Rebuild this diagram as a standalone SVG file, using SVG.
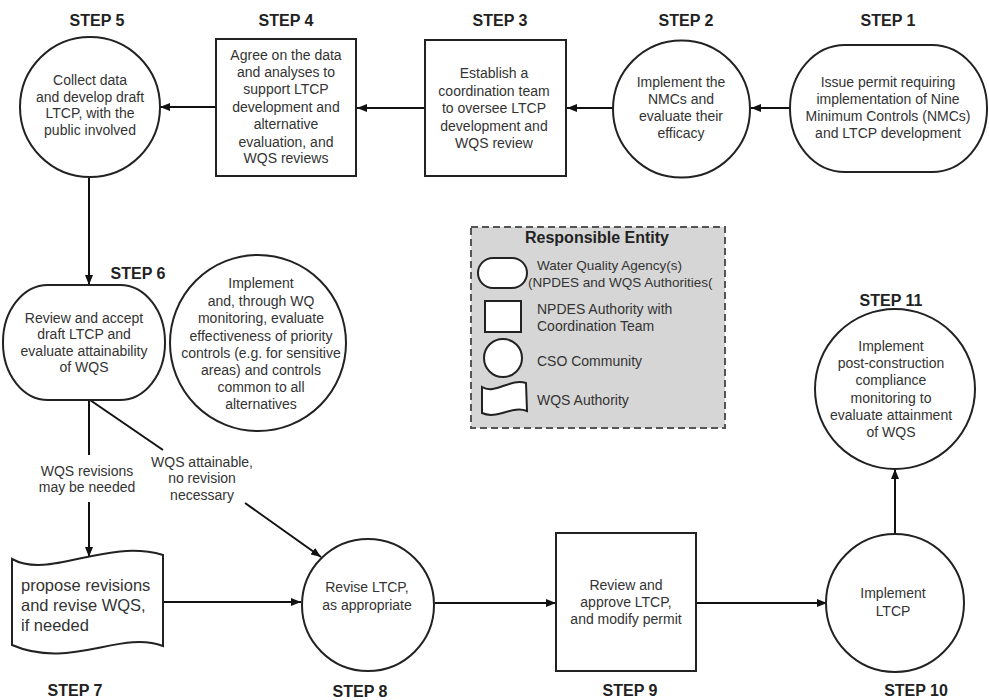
<svg xmlns="http://www.w3.org/2000/svg" width="989" height="700" viewBox="0 0 989 700">
<defs>
<marker id="arr" markerUnits="userSpaceOnUse" markerWidth="10" markerHeight="8" refX="10" refY="4" orient="auto">
<path d="M0,0 L10,4 L0,8 z" fill="#111"/>
</marker>
<style>
.sh{fill:#fff;stroke:#222;stroke-width:2}
.t{font-family:"Liberation Sans",Arial,sans-serif;font-size:14px;fill:#333;text-anchor:middle}
.tl{font-family:"Liberation Sans",Arial,sans-serif;font-size:14px;fill:#333}
.st{font-family:"Liberation Sans",Arial,sans-serif;font-size:16px;font-weight:bold;fill:#222;text-anchor:middle}
.c{fill:none;stroke:#111;stroke-width:2}
.ca{fill:none;stroke:#111;stroke-width:2;marker-end:url(#arr)}
</style>
</defs>
<rect width="989" height="700" fill="#fff"/>

<g id="legend">
<rect x="471" y="227" width="254" height="201" fill="#d6d6d6" stroke="#555" stroke-width="2" stroke-dasharray="7,4"/>
<text class="st" x="597" y="243">Responsible Entity</text>
<rect class="sh" x="478" y="258" width="49" height="30" rx="15" ry="15"/>
<text class="tl" x="537" y="270" style="font-size:13.5px">Water Quality Agency(s)</text>
<text class="tl" x="528" y="287" style="font-size:13.5px">(NPDES and WQS Authorities(</text>
<rect class="sh" x="485" y="301" width="36" height="31"/>
<text class="tl" x="537" y="314">NPDES Authority with</text>
<text class="tl" x="537" y="331">Coordination Team</text>
<circle class="sh" cx="503" cy="358" r="19"/>
<text class="tl" x="537" y="366">CSO Community</text>
<path class="sh" d="M482,387 C495,395 510,378 526,383 L527,411 C512,405 497,420 482,413 Z"/>
<text class="tl" x="537" y="405">WQS Authority</text>
</g>

<g id="connectors">
<path class="ca" d="M790,108 L751,108"/>
<path class="ca" d="M613,108 L567,108"/>
<path class="ca" d="M425,108 L357,108"/>
<path class="ca" d="M216,107 L160,107"/>
<path class="ca" d="M89,177 L89,285"/>
<path class="c" d="M89,400 L89,455"/>
<path class="ca" d="M89,502 L89,557"/>
<path class="c" d="M90,400 L163,450"/>
<path class="ca" d="M245,503 L321,557"/>
<path class="ca" d="M163,602 L301,602"/>
<path class="ca" d="M435,603 L556,603"/>
<path class="ca" d="M696,603 L827,603"/>
<path class="ca" d="M895,533 L895,469"/>
<text class="t" x="87" y="476">WQS revisions</text>
<text class="t" x="87" y="492">may be needed</text>
<text class="t" x="202" y="467">WQS attainable,</text>
<text class="t" x="202" y="483">no revision</text>
<text class="t" x="202" y="500">necessary</text>
</g>

<g id="step1">
<text class="st" x="888" y="26">STEP 1</text>
<rect class="sh" x="790" y="45" width="197" height="127" rx="55" ry="63"/>
<text class="t" x="888" y="87">Issue permit requiring</text>
<text class="t" x="888" y="104">implementation of Nine</text>
<text class="t" x="888" y="121">Minimum Controls (NMCs)</text>
<text class="t" x="888" y="138">and LTCP development</text>
</g>

<g id="step2">
<text class="st" x="686" y="26">STEP 2</text>
<circle class="sh" cx="681.5" cy="109" r="68.5"/>
<text class="t" x="681" y="87">Implement the</text>
<text class="t" x="681" y="104">NMCs and</text>
<text class="t" x="681" y="121">evaluate their</text>
<text class="t" x="681" y="138">efficacy</text>
</g>

<g id="step3">
<text class="st" x="500" y="26">STEP 3</text>
<rect class="sh" x="425" y="40" width="141" height="136"/>
<text class="t" x="494" y="78">Establish a</text>
<text class="t" x="494" y="96">coordination team</text>
<text class="t" x="494" y="113">to oversee LTCP</text>
<text class="t" x="494" y="131">development and</text>
<text class="t" x="494" y="148">WQS review</text>
</g>

<g id="step4">
<text class="st" x="286" y="26">STEP 4</text>
<rect class="sh" x="216" y="39" width="140" height="137"/>
<text class="t" x="286" y="60">Agree on the data</text>
<text class="t" x="286" y="77">and analyses to</text>
<text class="t" x="286" y="94">support LTCP</text>
<text class="t" x="286" y="112">development and</text>
<text class="t" x="286" y="129">alternative</text>
<text class="t" x="286" y="147">evaluation, and</text>
<text class="t" x="286" y="163">WQS reviews</text>
</g>

<g id="step5">
<text class="st" x="97" y="26">STEP 5</text>
<circle class="sh" cx="90" cy="107" r="70"/>
<text class="t" x="90" y="85">Collect data</text>
<text class="t" x="90" y="102">and develop draft</text>
<text class="t" x="90" y="118">LTCP, with the</text>
<text class="t" x="90" y="135">public involved</text>
</g>

<g id="step6">
<text class="st" x="138" y="279">STEP 6</text>
<rect class="sh" x="3" y="285" width="162" height="115" rx="45" ry="57"/>
<text class="t" x="84" y="323">Review and accept</text>
<text class="t" x="84" y="339">draft LTCP and</text>
<text class="t" x="84" y="356">evaluate attainability</text>
<text class="t" x="84" y="372">of WQS</text>
</g>

<g id="implement">
<circle class="sh" cx="258" cy="343" r="88"/>
<text class="t" x="261" y="288">Implement</text>
<text class="t" x="261" y="306">and, through WQ</text>
<text class="t" x="261" y="323">monitoring, evaluate</text>
<text class="t" x="261" y="341">effectiveness of priority</text>
<text class="t" x="261" y="358">controls (e.g. for sensitive</text>
<text class="t" x="261" y="375">areas) and controls</text>
<text class="t" x="261" y="392">common to all</text>
<text class="t" x="261" y="409">alternatives</text>
</g>

<g id="step7">
<path class="sh" d="M12,559 C50,580 105,538 163,555 L163,646 C120,630 70,670 12,645 Z"/>
<text class="tl" x="21" y="591" style="font-size:16.5px">propose revisions</text>
<text class="tl" x="21" y="611" style="font-size:16.5px">and revise WQS,</text>
<text class="tl" x="21" y="631" style="font-size:16.5px">if needed</text>
<text class="st" x="75" y="696">STEP 7</text>
</g>

<g id="step8">
<circle class="sh" cx="368" cy="605" r="66"/>
<text class="t" x="367" y="592">Revise LTCP,</text>
<text class="t" x="367" y="610">as appropriate</text>
<text class="st" x="360" y="697">STEP 8</text>
</g>

<g id="step9">
<rect class="sh" x="556" y="533" width="140" height="138"/>
<text class="t" x="626" y="590">Review and</text>
<text class="t" x="626" y="607">approve LTCP,</text>
<text class="t" x="626" y="624">and modify permit</text>
<text class="st" x="630" y="696">STEP 9</text>
</g>

<g id="step10">
<circle class="sh" cx="895" cy="603" r="69"/>
<text class="t" x="893" y="598">Implement</text>
<text class="t" x="893" y="616">LTCP</text>
<text class="st" x="916" y="696">STEP 10</text>
</g>

<g id="step11">
<text class="st" x="891" y="306">STEP 11</text>
<circle class="sh" cx="895" cy="389" r="80"/>
<text class="t" x="891" y="351">Implement</text>
<text class="t" x="891" y="368">post-construction</text>
<text class="t" x="891" y="385">compliance</text>
<text class="t" x="891" y="403">monitoring to</text>
<text class="t" x="891" y="420">evaluate attainment</text>
<text class="t" x="891" y="437">of WQS</text>
</g>
</svg>
